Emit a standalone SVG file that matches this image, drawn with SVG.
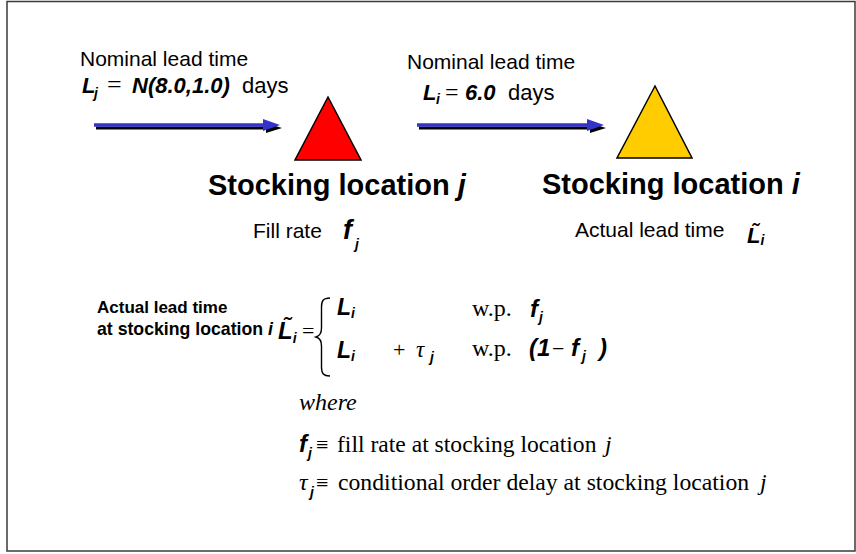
<svg xmlns="http://www.w3.org/2000/svg" width="856" height="554" viewBox="0 0 856 554">
<style>
.sans{font-family:"Liberation Sans",Arial,sans-serif;fill:#000}
.serif{font-family:"Liberation Serif","Times New Roman",serif;fill:#000}
.bi{font-family:"Liberation Sans",Arial,sans-serif;font-weight:bold;font-style:italic;fill:#000}
.sub{font-family:"Liberation Sans",Arial,sans-serif;font-weight:bold;font-style:italic;font-size:14px;fill:#000}
.tri{stroke:#000;stroke-width:1.5;stroke-linejoin:miter}
.shaft{stroke:#3333CC;stroke-width:3.5;fill:none}
.shadow{stroke:#000;stroke-width:3;fill:none}
</style>
<rect x="7" y="1.5" width="848" height="549.5" fill="#fff" stroke="#3a3a3a" stroke-width="1.5"/>

<g id="connectors">
  <g id="arrow-to-j">
    <line class="shadow" x1="96" y1="128" x2="272" y2="128"/>
    <polygon points="266,123 282,128 266,133" fill="#000"/>
    <line class="shaft" x1="94" y1="125" x2="268" y2="125"/>
    <polygon points="263,119 280,125 263,131" fill="#3333CC"/>
  </g>
  <g id="arrow-j-to-i">
    <line class="shadow" x1="419" y1="128" x2="596" y2="128"/>
    <polygon points="590,123 606,128 590,133" fill="#000"/>
    <line class="shaft" x1="417" y1="125" x2="592" y2="125"/>
    <polygon points="587,119 604,125 587,131" fill="#3333CC"/>
  </g>
</g>

<g id="label-lead-j">
  <text class="sans" x="80" y="66" font-size="21">Nominal lead time</text>
  <text class="bi" x="82" y="93" font-size="22">L</text>
  <text class="sub" x="94" y="98">j</text>
  <text class="serif" x="107" y="93" font-size="26">=</text>
  <text class="bi" x="132" y="93" font-size="22">N(8.0,1.0)</text>
  <text class="sans" x="242" y="93" font-size="22">days</text>
</g>

<g id="label-lead-i">
  <text class="sans" x="407" y="69" font-size="21">Nominal lead time</text>
  <text class="bi" x="423" y="100" font-size="22">L</text>
  <text class="sub" x="436" y="104">i</text>
  <text class="serif" x="445" y="100" font-size="24">=</text>
  <text class="bi" x="465" y="100" font-size="22">6.0</text>
  <text class="sans" x="508" y="100" font-size="22">days</text>
</g>

<g id="node-j">
  <polygon class="tri" points="328,97 361,160 295,160" fill="#FF0000"/>
  <text class="sans" x="208" y="195" font-size="29" font-weight="bold">Stocking location <tspan font-style="italic">j</tspan></text>
  <text class="sans" x="253" y="238" font-size="21">Fill rate</text>
  <text class="bi" x="343" y="239" font-size="27">f</text>
  <text class="sub" x="355" y="249" font-size="15">j</text>
</g>

<g id="node-i">
  <polygon class="tri" points="655,86 692,158 617,158" fill="#FFCC00"/>
  <text class="sans" x="542" y="194" font-size="29" font-weight="bold">Stocking location <tspan font-style="italic">i</tspan></text>
  <text class="sans" x="575" y="237" font-size="21">Actual lead time</text>
  <text class="bi" x="747" y="243" font-size="22">L̃<tspan font-size="14" dy="2">i</tspan></text>
</g>

<g id="actual-lead-time-formula">
  <text class="sans" x="97" y="313" font-size="17" font-weight="bold">Actual lead time</text>
  <text class="sans" x="97" y="335" font-size="17.7" font-weight="bold">at stocking location <tspan font-style="italic">i</tspan></text>

  <text class="bi" x="278" y="339" font-size="24">L̃<tspan font-size="14" dy="4">i</tspan></text>
  <text class="serif" x="302" y="338" font-size="22">=</text>
  <path d="M330,298 C323,298 321.5,301 321.5,307 L321.5,328 C321.5,333.5 319.5,336 316,337 C319.5,338 321.5,340.5 321.5,346 L321.5,367 C321.5,373 323,376 330,376" fill="none" stroke="#000" stroke-width="1.4"/>

  <text class="bi" x="337" y="315" font-size="23">L</text>
  <text class="sub" x="351" y="318" font-size="13">i</text>
  <text class="serif" x="472" y="316" font-size="24">w.p.</text>
  <text class="bi" x="530" y="317" font-size="24">f</text>
  <text class="sub" x="539" y="322">j</text>

  <text class="bi" x="337" y="358" font-size="23">L</text>
  <text class="sub" x="351" y="361" font-size="13">i</text>
  <text class="serif" x="393" y="357" font-size="22">+</text>
  <text class="serif" x="416" y="357" font-size="23" font-style="italic">τ</text>
  <text class="sub" x="430" y="362">j</text>
  <text class="serif" x="472" y="356" font-size="24">w.p.</text>
  <text class="bi" x="529" y="356" font-size="24">(1</text>
  <text class="serif" x="552" y="356" font-size="22">−</text>
  <text class="bi" x="571" y="356" font-size="24">f</text>
  <text class="sub" x="582" y="361">j</text>
  <text class="bi" x="599" y="356" font-size="24">)</text>

  <text class="serif" x="299" y="410" font-size="24" font-style="italic">where</text>

  <text class="bi" x="299" y="452" font-size="24">f</text>
  <text class="sub" x="308" y="458">j</text>
  <text class="serif" x="316" y="452" font-size="22">≡</text>
  <text class="serif" x="337" y="452" font-size="23.6">fill rate at stocking location</text>
  <text class="serif" x="605" y="452" font-size="23.6" font-style="italic">j</text>

  <text class="serif" x="299" y="490" font-size="24" font-style="italic">τ</text>
  <text class="sub" x="310" y="497">j</text>
  <text class="serif" x="316" y="490" font-size="22">≡</text>
  <text class="serif" x="338" y="490" font-size="23.7">conditional order delay at stocking location</text>
  <text class="serif" x="760" y="490" font-size="23.7" font-style="italic">j</text>
</g>
</svg>
